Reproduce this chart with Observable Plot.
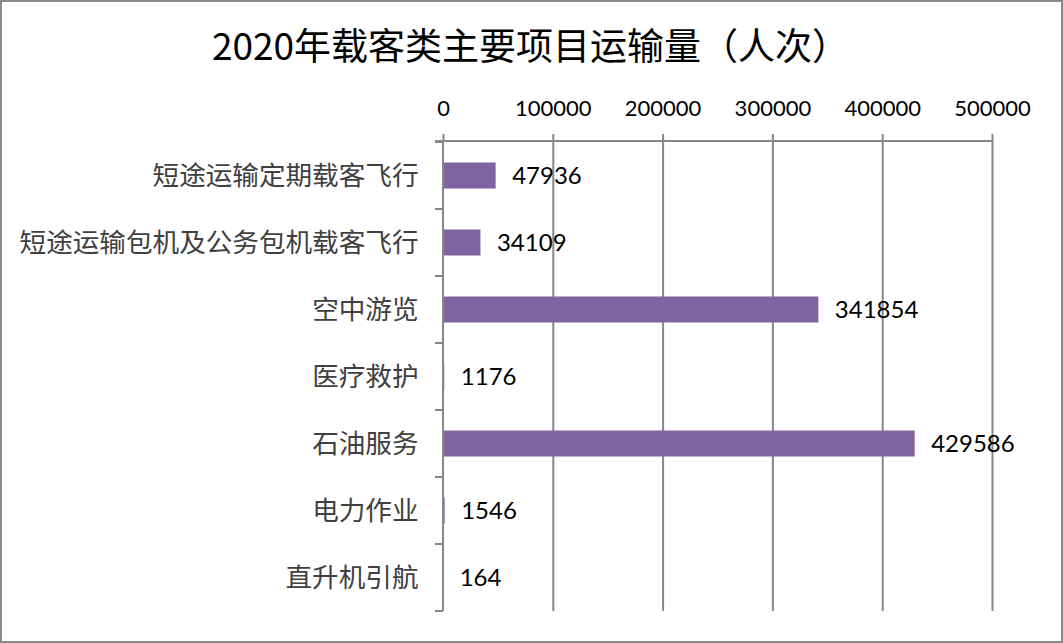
<!DOCTYPE html>
<html><head><meta charset="utf-8">
<script src="https://cdn.jsdelivr.net/npm/d3@7"></script>
<script src="https://cdn.jsdelivr.net/npm/@observablehq/plot@0.6"></script>
<style>
body{margin:0;background:#fff;}
#wrap{width:1063px;height:643px;box-sizing:border-box;border:2px solid #8a8a8a;position:relative;overflow:hidden;background:#fff;}
#title{height:86px;line-height:84px;text-align:center;font-family:"Noto Sans CJK SC";font-size:37px;color:#000;padding-right:2px;white-space:nowrap;}
#chart svg{display:block;}
</style></head><body>
<div id="wrap"><div id="title">2020年载客类主要项目运输量（人次）</div><div id="chart"></div></div>
<script>
const categories = ["短途运输定期载客飞行", "短途运输包机及公务包机载客飞行", "空中游览", "医疗救护", "石油服务", "电力作业", "直升机引航"];
const values = [47936, 34109, 341854, 1176, 429586, 1546, 164];
const xTicks = [0, 100000, 200000, 300000, 400000, 500000];

const data = categories.map((c, i) => ({category: c, value: values[i]}));
const grid = "#878787";

const frameLines = (index, scales, vals, dimensions) => {
  const x0 = scales.x(0), x1 = scales.x(xTicks[xTicks.length - 1]);
  const yTop = dimensions.marginTop, yBot = dimensions.height - dimensions.marginBottom;
  const g = d3.create("svg:g").attr("stroke", grid).attr("stroke-width", 2).attr("fill", "none");
  g.append("line").attr("x1", x0 - 8).attr("x2", x1 + 1).attr("y1", yTop).attr("y2", yTop);
  g.append("line").attr("x1", x0).attr("x2", x0).attr("y1", yTop).attr("y2", yBot);
  const bounds = categories.map(c => scales.y(c)).concat([yBot]);
  for (const b of bounds) {
    g.append("line").attr("x1", x0 - 8).attr("x2", x0).attr("y1", b).attr("y2", b);
  }
  return g.node();
};

const chart = Plot.plot({
  width: 1059,
  height: 553,
  marginTop: 53,
  marginBottom: 30,
  marginLeft: 441,
  marginRight: 69,
  x: {domain: [0, 500000], axis: null, label: null},
  y: {domain: categories, padding: 0, axis: null, label: null},
  style: {background: "#fff", overflow: "visible"},
  marks: [
    Plot.gridX(xTicks.slice(1), {stroke: grid, strokeOpacity: 1, strokeWidth: 2}),
    Plot.barX(data, {x: "value", y: "category", fill: "#8064A2", insetTop: 20.5, insetBottom: 20.5}),
    Plot.axisX(xTicks, {anchor: "top", label: null, tickSize: 8, tickPadding: 18, stroke: grid, strokeWidth: 2, fill: "#000", fontSize: 22, fontFamily: "Lato", tickFormat: d => String(d)}),
    Plot.axisY({anchor: "left", label: null, tickSize: 0, tickPadding: 25, fontSize: 26.6, fontFamily: "Noto Sans CJK SC", fill: "#404040"}),
    frameLines,
    Plot.text(data, {x: "value", y: "category", text: d => String(d.value), dx: 16, textAnchor: "start", fontSize: 24, fontFamily: "Lato", fill: "#000"})
  ]
});
document.getElementById("chart").appendChild(chart);
</script>
</body></html>
